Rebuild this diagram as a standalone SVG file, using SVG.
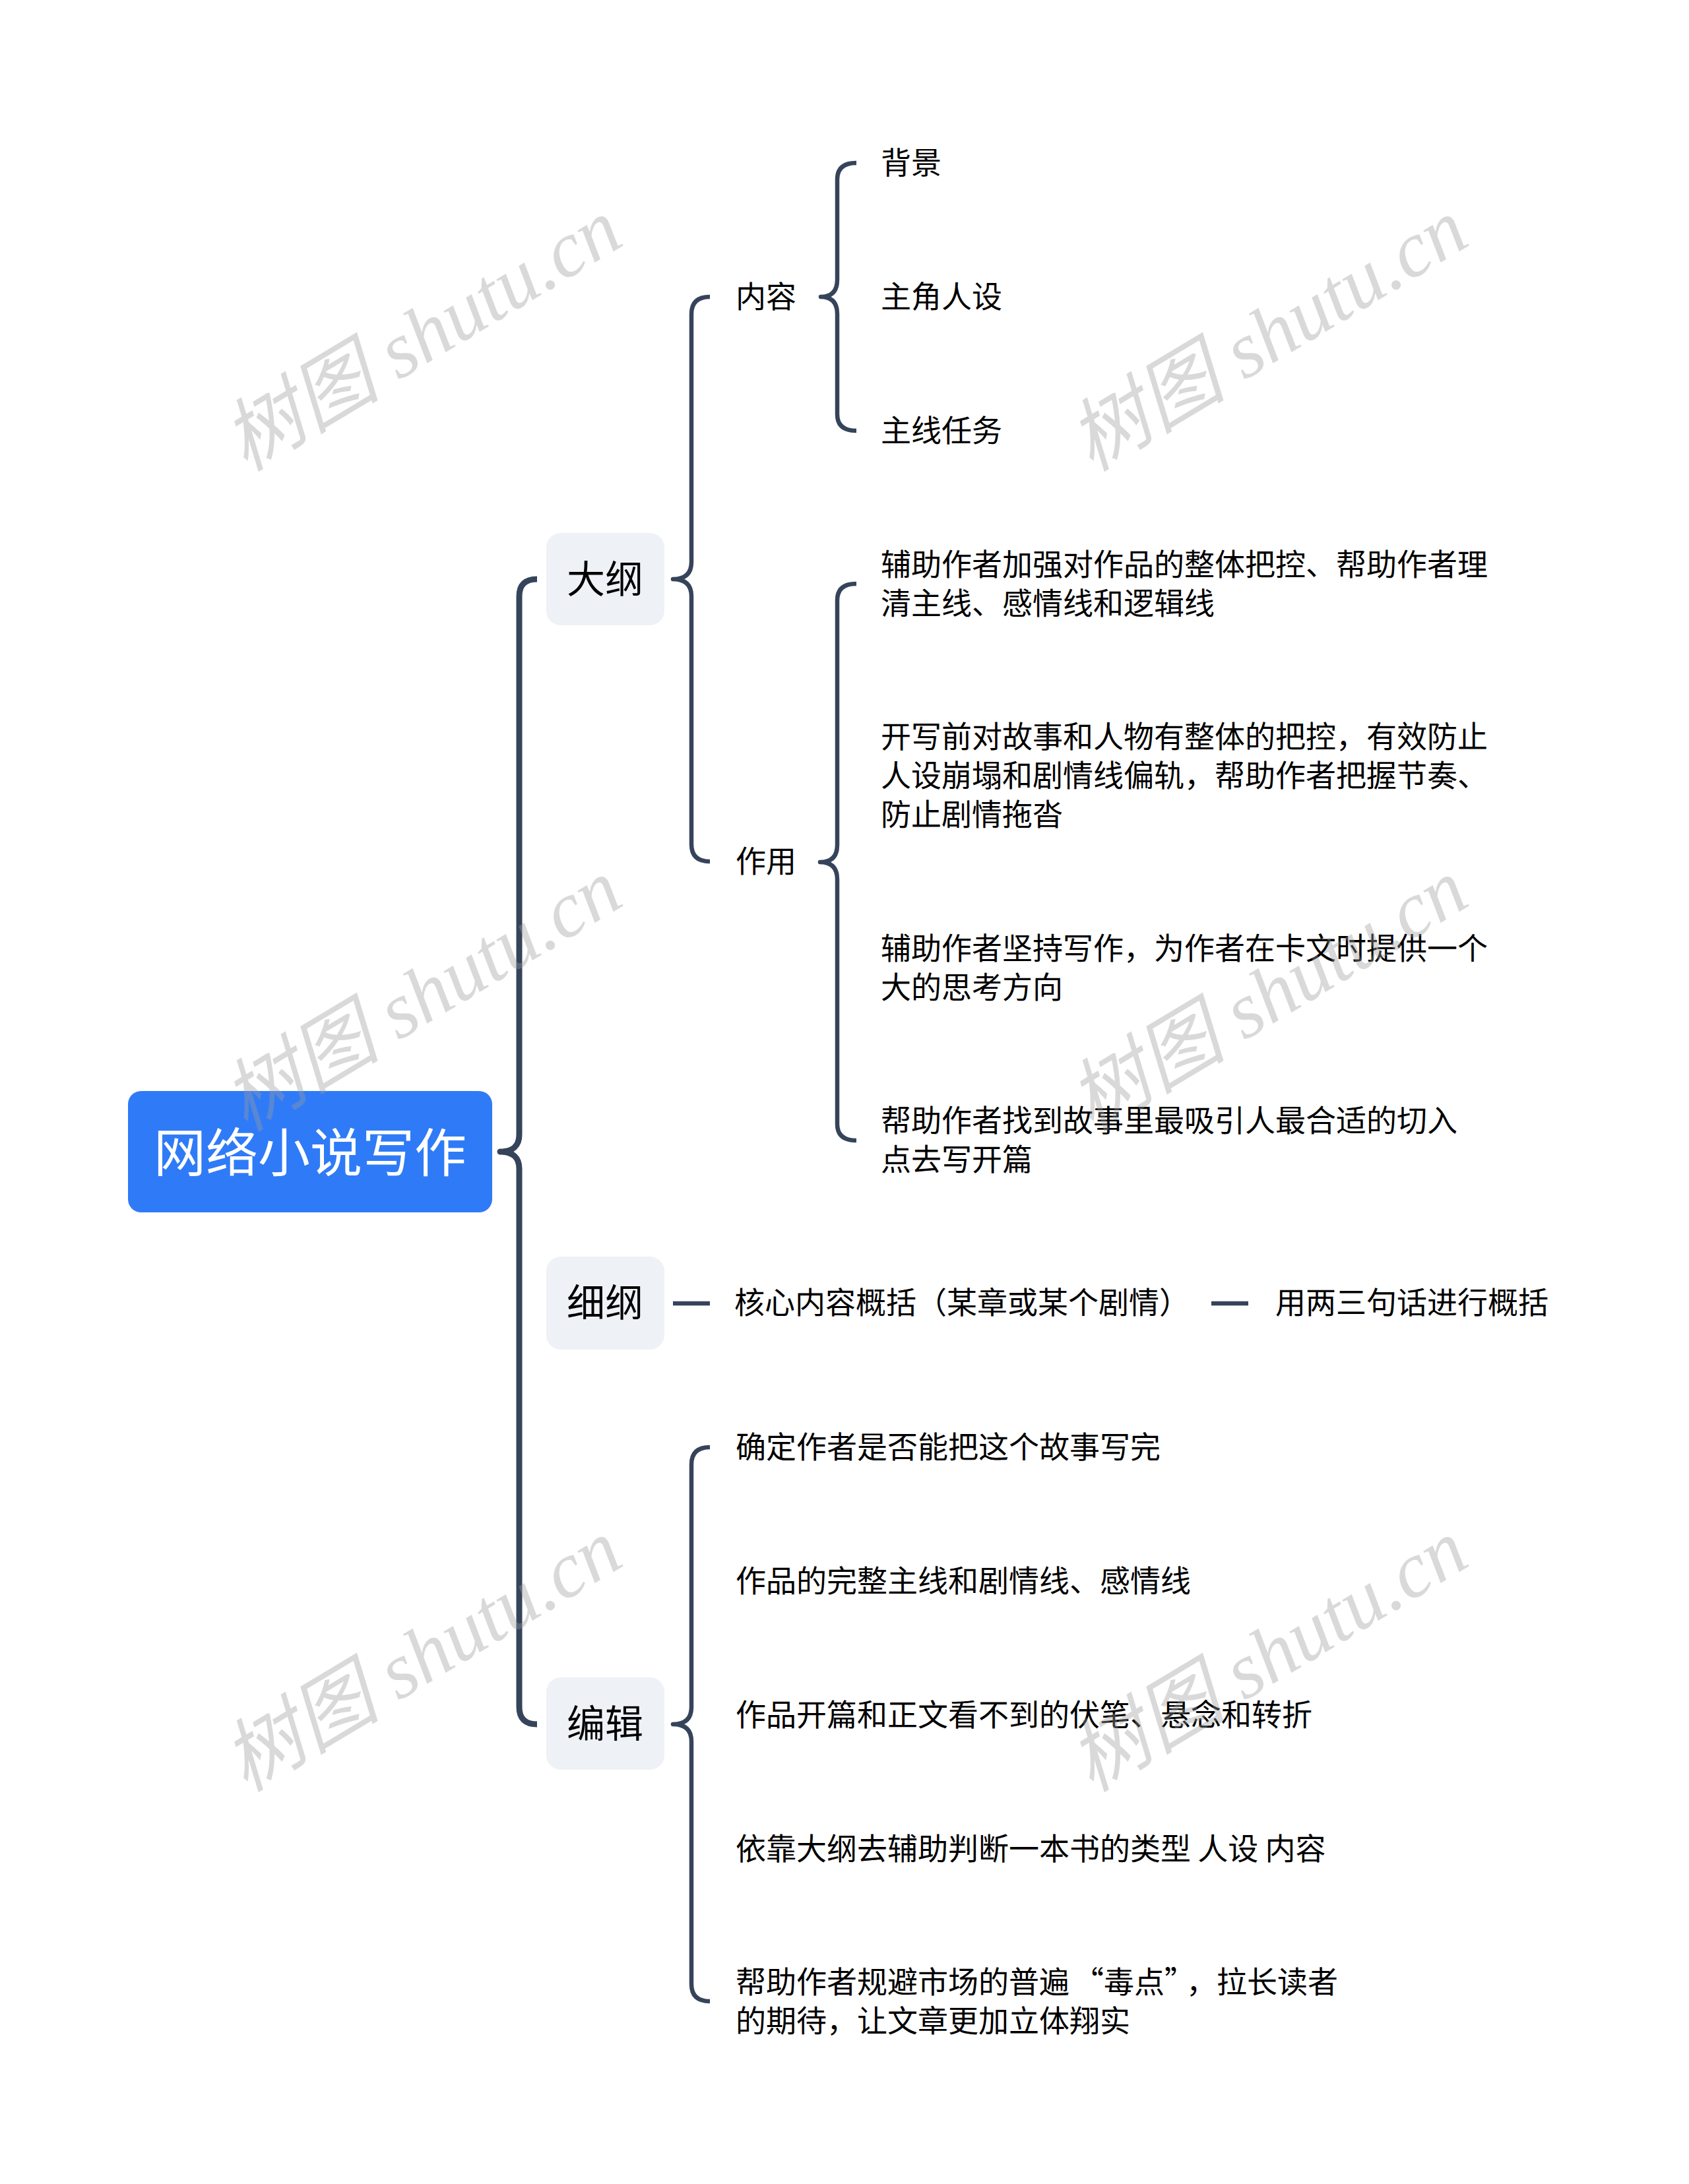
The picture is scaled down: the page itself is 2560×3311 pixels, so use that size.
<svg xmlns="http://www.w3.org/2000/svg" width="2560" height="3311" viewBox="0 0 2560 3311">
<style>
.t{font-family:"Noto Sans CJK SC","Noto Sans",sans-serif;font-size:46px;fill:#000;dominant-baseline:central}
.l1{font-family:"Noto Sans CJK SC","Noto Sans",sans-serif;font-size:58px;fill:#000;dominant-baseline:central;text-anchor:middle}
.root{font-family:"Noto Sans CJK SC","Noto Sans",sans-serif;font-size:79px;fill:#fff;dominant-baseline:central;text-anchor:middle}
.box{fill:#eef1f5}
.br{fill:none;stroke:#35445a;stroke-width:6.5;stroke-linecap:butt;stroke-linejoin:round}
.main{stroke-width:9}
.wm{font-family:"Liberation Serif","Noto Sans CJK SC",serif;font-style:italic;font-size:120px;fill:#9a9a9a;fill-opacity:0.38;text-anchor:middle;dominant-baseline:central}
</style>
<rect width="2560" height="3311" fill="#fff"/>
<g id="connectors">
<path class="br main" d="M814 878 Q787 878 787 904 L787 1720 Q787 1746 758 1746 Q787 1746 787 1772 L787 2588 Q787 2614 814 2614"/>
<path class="br" d="M1076 450 Q1048 450 1048 476 L1048 852 Q1048 878 1020 878 Q1048 878 1048 904 L1048 1280 Q1048 1306 1076 1306"/>
<path class="br" d="M1298 247 Q1269 247 1269 272 L1269 424 Q1269 450 1244 450 Q1269 450 1269 476 L1269 628 Q1269 653 1298 653"/>
<path class="br" d="M1298 885 Q1269 885 1269 910 L1269 1281 Q1269 1307 1243 1307 Q1269 1307 1269 1333 L1269 1704 Q1269 1729 1298 1729"/>
<path class="br" d="M1076 2194 Q1048 2194 1048 2220 L1048 2588 Q1048 2614 1020 2614 Q1048 2614 1048 2640 L1048 3008 Q1048 3034 1076 3034"/>
<line class="br" x1="1020" y1="1976" x2="1076" y2="1976"/>
<line class="br" x1="1836" y1="1976" x2="1892" y2="1976"/>
</g>
<g id="root">
<rect x="194" y="1654" width="552" height="184" rx="20" fill="#2f7bf7"/>
<text class="root" x="470" y="1742">网络小说写作</text>
</g>
<g id="dagang">
<rect class="box" x="828" y="808" width="179" height="140" rx="22"/>
<text class="l1" x="917" y="874">大纲</text>
</g>
<g id="xigang">
<rect class="box" x="828" y="1905" width="179" height="141" rx="22"/>
<text class="l1" x="917" y="1971">细纲</text>
</g>
<g id="bianji">
<rect class="box" x="828" y="2543" width="179" height="140" rx="22"/>
<text class="l1" x="917" y="2609">编辑</text>
</g>
<g id="neirong"><text class="t" x="1115" y="446">内容</text></g>
<g id="beijing"><text class="t" x="1335" y="243">背景</text></g>
<g id="zhujiao"><text class="t" x="1335" y="446">主角人设</text></g>
<g id="zhuxian"><text class="t" x="1335" y="649">主线任务</text></g>
<g id="zuoyong"><text class="t" x="1115" y="1302">作用</text></g>
<g id="zy1"><text class="t" x="1335"><tspan x="1335" y="852">辅助作者加强对作品的整体把控、帮助作者理</tspan><tspan x="1335" y="911">清主线、感情线和逻辑线</tspan></text></g>
<g id="zy2"><text class="t" x="1335"><tspan x="1335" y="1113">开写前对故事和人物有整体的把控，有效防止</tspan><tspan x="1335" y="1172">人设崩塌和剧情线偏轨，帮助作者把握节奏、</tspan><tspan x="1335" y="1231">防止剧情拖沓</tspan></text></g>
<g id="zy3"><text class="t" x="1335"><tspan x="1335" y="1434">辅助作者坚持写作，为作者在卡文时提供一个</tspan><tspan x="1335" y="1493">大的思考方向</tspan></text></g>
<g id="zy4"><text class="t" x="1335"><tspan x="1335" y="1695">帮助作者找到故事里最吸引人最合适的切入</tspan><tspan x="1335" y="1754">点去写开篇</tspan></text></g>
<g id="hexin"><text class="t" x="1113" y="1971">核心内容概括（某章或某个剧情）</text></g>
<g id="liangsan"><text class="t" x="1933" y="1971">用两三句话进行概括</text></g>
<g id="bj1"><text class="t" x="1115" y="2190">确定作者是否能把这个故事写完</text></g>
<g id="bj2"><text class="t" x="1115" y="2393">作品的完整主线和剧情线、感情线</text></g>
<g id="bj3"><text class="t" x="1115" y="2596">作品开篇和正文看不到的伏笔、悬念和转折</text></g>
<g id="bj4"><text class="t" x="1115" y="2799">依靠大纲去辅助判断一本书的类型 人设 内容</text></g>
<g id="bj5"><text class="t" x="1115"><tspan x="1115" y="3001">帮助作者规避市场的普遍</tspan><tspan dx="6">“毒点”</tspan><tspan dx="10">，拉长读者</tspan><tspan x="1115" y="3060">的期待，让文章更加立体翔实</tspan></text></g>
<g id="watermarks">
<text class="wm" transform="translate(640 508) rotate(-31)">树图 shutu.cn</text>
<text class="wm" transform="translate(1922 508) rotate(-31)">树图 shutu.cn</text>
<text class="wm" transform="translate(640 1509) rotate(-31)">树图 shutu.cn</text>
<text class="wm" transform="translate(1922 1509) rotate(-31)">树图 shutu.cn</text>
<text class="wm" transform="translate(640 2510) rotate(-31)">树图 shutu.cn</text>
<text class="wm" transform="translate(1922 2510) rotate(-31)">树图 shutu.cn</text>
</g>
</svg>
